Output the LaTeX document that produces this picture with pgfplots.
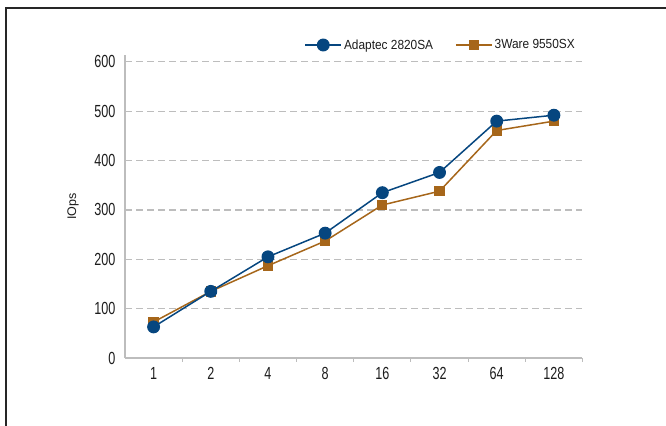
\documentclass[border=0pt]{standalone}
\usepackage{fontspec}
\setmainfont{Liberation Sans}[FakeStretch=0.9]
\newfontfamily\tickfont{Liberation Sans}[FakeStretch=0.72]
\newfontfamily\plainsans{Liberation Sans}
\usepackage{pgfplots}
\pgfplotsset{compat=1.18}
\definecolor{cblue}{HTML}{06467F}
\definecolor{corange}{HTML}{A6661A}
\definecolor{cgrid}{HTML}{BDBDBD}
\definecolor{ctext}{HTML}{1C1C1C}
\begin{document}
\begin{tikzpicture}
\useasboundingbox (0,0) rectangle (666bp,426bp);
\draw[line width=1.6bp, black!85] (6bp,-20bp) -- (6bp,418bp) -- (690bp,418bp);
\begin{axis}[
  at={(125bp,68bp)}, anchor=south west,
  scale only axis, width=457.5bp, height=303bp,
  xmin=-0.5, xmax=7.5, ymin=0, ymax=614,
  axis x line*=bottom, axis y line*=left,
  axis line style={cgrid, line width=1.4bp},
  xtick={0,...,7}, xticklabels={1,2,4,8,16,32,64,128},
  minor xtick={0.5,1.5,...,7.5},
  ytick={0,100,...,600},
  major tick length=0pt, minor tick length=4bp, tick align=outside,
  minor tick style={cgrid, line width=1bp},
  ymajorgrids, grid style={cgrid, line width=1.1bp, dash pattern=on 7bp off 4bp},
  /pgf/number format/assume math mode=true,
  yticklabel style={font=\tickfont\fontsize{17.5bp}{20bp}\selectfont, text=ctext, xshift=-6bp},
  xticklabel style={font=\tickfont\fontsize{17.5bp}{20bp}\selectfont, text=ctext, yshift=-6bp},
  ylabel={IOps},
  every axis y label/.style={at={(axis description cs:-0.1137,0.5)}, rotate=90, anchor=center, font=\plainsans\fontsize{12.5bp}{14bp}\selectfont, text=ctext},
  legend style={at={(0.9945,1.033)}, anchor=east, draw=none, fill=none,
    font=\fontsize{13.2bp}{15bp}\selectfont, text=ctext,
    /tikz/every even column/.append style={column sep=20bp}},
  legend columns=2, legend cell align=left, reverse legend,
  legend image code/.code={\draw[mark repeat=2,mark phase=2,#1] plot coordinates {(0bp,0bp) (18bp,0bp) (36bp,0bp)};},
]
\addplot[corange, line width=1.5bp, mark=square*, mark size=4.4bp, mark options={solid, fill=corange, draw=corange}]
  coordinates {(0,73)(1,135)(2,187)(3,237)(4,310)(5,338)(6,461)(7,480)};
\addlegendentry{3Ware 9550SX}
\addplot[cblue, line width=1.5bp, mark=*, mark size=5.7bp, mark options={solid, fill=cblue, draw=cblue}]
  coordinates {(0,63)(1,135)(2,205)(3,253)(4,335)(5,376)(6,480)(7,492)};
\addlegendentry{Adaptec 2820SA}
\end{axis}
\end{tikzpicture}
\end{document}
